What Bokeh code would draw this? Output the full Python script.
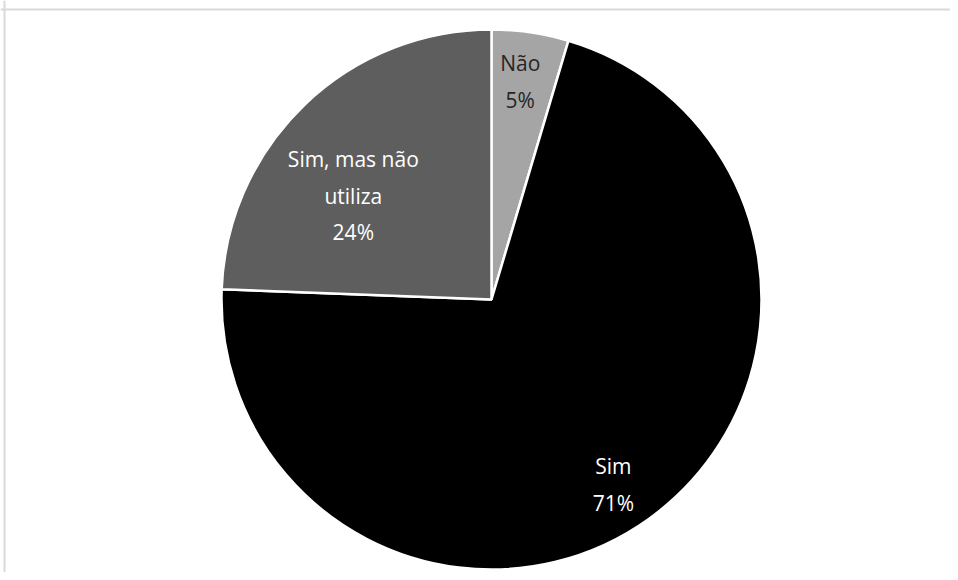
import math
from bokeh.plotting import figure
from bokeh.models import Range1d, Span, ColumnDataSource
from bokeh.core.properties import value
from bokeh.embed import file_html
from bokeh.resources import INLINE

# ---- data ----
categories = ["Não", "Sim", "Sim, mas não utiliza"]
shares = [4.6, 71.0, 24.4]          # percent
pct_labels = ["5%", "71%", "24%"]
colors = ["#A5A5A5", "#000000", "#5E5E5E"]
label_colors = ["#262626", "#FFFFFF", "#FFFFFF"]
label_lines = ["Não", "Sim", "Sim, mas não\nutiliza"]

# ---- layout (pixels of the canvas) ----
W, H = 950, 572
CX, CY, R = 491, H - 299, 270
# label placement: (angle clockwise from 12 o'clock in degrees, radius fraction)
label_polar = [(7.5, 0.815), (146.6, 0.82), (306.9, 0.64)]

p = figure(width=W, height=H, output_backend="svg", toolbar_location=None,
           x_range=Range1d(0, W), y_range=Range1d(0, H), min_border=0)
p.axis.visible = False
p.grid.visible = False
p.outline_line_color = None
p.background_fill_color = "white"

total = sum(shares)
starts, ends = [], []
cum = 0.0
for s in shares:
    a0 = cum / total * 2 * math.pi
    cum += s
    a1 = cum / total * 2 * math.pi
    starts.append(math.pi / 2 - a0)
    ends.append(math.pi / 2 - a1)

src = ColumnDataSource(dict(start=starts, end=ends, color=colors, cat=categories))
p.wedge(x=CX, y=CY, radius=R, start_angle="start", end_angle="end",
        direction="clock", fill_color="color", line_color="white",
        line_width=2.5, source=src)

lx, ly, txt = [], [], []
for (ang, fr), name, pl in zip(label_polar, label_lines, pct_labels):
    a = math.radians(ang)
    lx.append(CX + fr * R * math.sin(a))
    ly.append(CY + fr * R * math.cos(a))
    txt.append(name + "\n" + pl)

lsrc = ColumnDataSource(dict(x=lx, y=ly, t=txt, c=label_colors))
p.text(x="x", y="y", text="t", text_color="c", source=lsrc,
       text_font=value("Open Sans"), text_font_size="21px",
       text_align="center", text_baseline="middle", text_line_height=1.3)

p.add_layout(Span(location=H - 9, dimension="width", line_color="#D9D9D9", line_width=2))
p.add_layout(Span(location=4, dimension="height", line_color="#D9D9D9", line_width=2))

open("out.html", "w").write(file_html(p, INLINE))
